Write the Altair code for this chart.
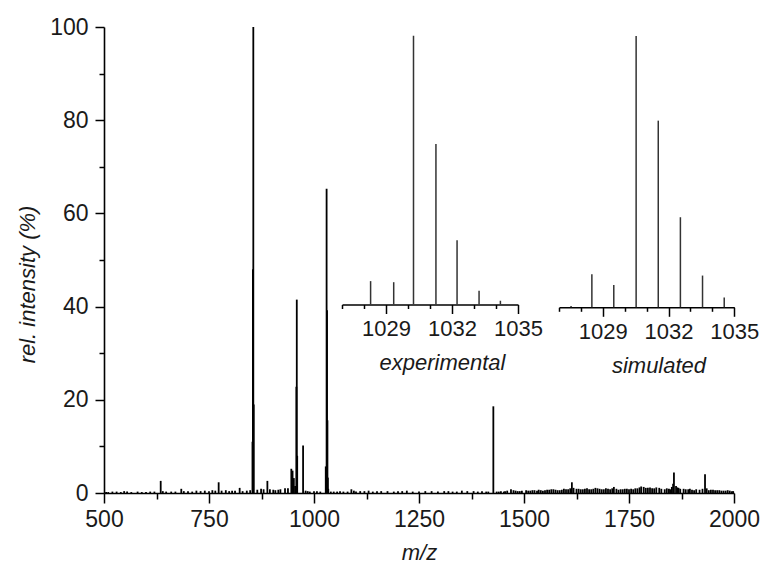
import altair as alt
import pandas as pd

# ---- main spectrum: major peaks (m/z, rel. intensity %) ----
major_mz = [853.5, 854.5, 855.5, 856.5, 946, 949, 952, 955, 958, 959, 960, 974,
            1028, 1029, 1030, 1031, 1032, 1033, 1034, 1427]
major_int = [11, 48, 100, 19, 5.2, 4.8, 3.2, 1.5, 22.8, 41.5, 8, 10.2,
             5.7, 5.5, 65.3, 39.2, 15.6, 3.3, 0.9, 18.6]

# ---- main spectrum: small peaks ----
small_mz = [505, 520, 548, 565, 580, 600, 620, 635, 648, 660, 684, 700, 720, 740, 758,
            773, 790, 805, 823, 840, 874, 889, 903, 915, 931, 990, 1007, 1040, 1055,
            1070, 1089, 1110, 1130, 1150, 1175, 1200, 1221, 1250, 1280, 1310, 1330,
            1352, 1380, 1400, 1415, 1440, 1455, 1469, 1480, 1490, 1510, 1520, 1531,
            1540, 1550, 1560, 1570, 1580, 1590, 1600, 1614, 1625, 1635, 1645, 1660,
            1675, 1690, 1700, 1714, 1730, 1745, 1760, 1770, 1779, 1790, 1800, 1810,
            1822, 1835, 1845, 1852, 1857, 1862, 1868, 1880, 1891, 1905, 1918, 1931,
            1945, 1960, 1975, 1990, 1998]
small_int = [0.2, 0.3, 0.4, 0.2, 0.3, 0.2, 0.3, 2.6, 0.3, 0.3, 0.9, 0.4, 0.5, 0.5, 0.6,
             2.3, 0.6, 0.5, 1.1, 0.5, 0.9, 2.6, 0.7, 0.7, 1.0, 0.3, 0.4, 0.3, 0.3,
             0.3, 0.8, 0.4, 0.5, 0.4, 0.4, 0.4, 0.5, 0.3, 0.4, 0.4, 0.3,
             0.5, 0.4, 0.4, 0.3, 0.3, 0.4, 0.8, 0.5, 0.4, 0.5, 0.6, 0.5,
             0.6, 0.6, 0.7, 0.8, 0.6, 0.7, 0.8, 2.3, 0.9, 0.8, 0.9, 0.8,
             1.0, 0.8, 0.9, 1.3, 0.8, 0.9, 0.8, 1.0, 1.4, 1.1, 1.2, 1.0,
             1.1, 0.8, 0.9, 1.3, 4.4, 1.5, 1.1, 0.9, 0.8, 0.6, 0.7, 4.0,
             0.7, 0.6, 0.5, 0.5, 0.4]

# ---- main spectrum: baseline noise ----
noise_mz = [510, 530, 540, 555, 590, 610, 640, 670, 690, 710, 730, 750, 765, 780, 798,
            812, 830, 848, 865, 880, 895, 908, 920, 938, 980, 985, 1000, 1015, 1047,
            1062, 1080, 1095, 1100, 1120, 1140, 1160, 1190, 1210, 1235, 1265, 1295,
            1320, 1340, 1365, 1390, 1410, 1435, 1445, 1452, 1460, 1475, 1485, 1495,
            1505, 1515, 1525, 1535, 1545, 1555, 1565, 1575, 1585, 1595, 1605, 1610,
            1618, 1630, 1640, 1650, 1655, 1665, 1670, 1680, 1685, 1695, 1705, 1710,
            1720, 1725, 1735, 1740, 1750, 1755, 1765, 1775, 1785, 1795, 1805, 1815,
            1827, 1840, 1848, 1855, 1865, 1872, 1885, 1895, 1900, 1910, 1925, 1935,
            1940, 1950, 1955, 1965, 1970, 1980, 1985, 1995]
noise_int = [0.2, 0.3, 0.2, 0.3, 0.2, 0.3, 0.4, 0.3, 0.4, 0.3, 0.4, 0.4, 0.5, 0.5, 0.4,
             0.5, 0.4, 0.6, 0.7, 0.8, 0.8, 0.6, 0.8, 1.0, 0.5, 0.4, 0.4, 0.3, 0.3,
             0.4, 0.3, 0.5, 0.3, 0.4, 0.3, 0.4, 0.3, 0.4, 0.3, 0.4, 0.3,
             0.4, 0.3, 0.4, 0.3, 0.3, 0.3, 0.4, 0.3, 0.5, 0.6, 0.4, 0.5,
             0.6, 0.5, 0.6, 0.7, 0.5, 0.7, 0.8, 0.7, 0.6, 0.9, 0.8, 1.0,
             1.1, 0.9, 0.8, 1.0, 0.8, 0.9, 1.1, 0.9, 0.8, 1.0, 0.8, 1.0,
             0.9, 0.7, 0.8, 0.9, 0.8, 0.9, 1.0, 1.2, 1.3, 1.1, 1.0, 1.2,
             0.9, 1.0, 0.8, 2.0, 1.2, 0.9, 0.8, 0.9, 0.7, 0.8, 0.9, 1.0,
             0.6, 0.7, 0.6, 0.6, 0.5, 0.5, 0.6, 0.4]

# ---- insets: isotope patterns ----
exp_mz = [1028.3, 1029.35, 1030.25, 1031.27, 1032.23, 1033.23, 1034.2]
exp_int = [8.7, 8.3, 100, 59.7, 23.9, 5.1, 1.4]
sim_mz = [1027.55, 1028.5, 1029.5, 1030.52, 1031.53, 1032.54, 1033.55, 1034.54]
sim_int = [0.5, 12.2, 8.2, 100, 68.8, 33.2, 11.7, 3.6]

# ---- axis ticks ----
x_major = [500, 750, 1000, 1250, 1500, 1750, 2000]
x_minor = [625, 875, 1125, 1375, 1625, 1875]
y_major = [0, 20, 40, 60, 80, 100]
y_minor = [10, 30, 50, 70, 90]
inset_major = [1029, 1032, 1035]
inset_minor = [1027, 1028, 1030, 1031, 1033, 1034]

FONT = "Liberation Sans"
W, H = 630, 466

peaks = pd.DataFrame({"mz": major_mz + small_mz + noise_mz,
                      "inten": major_int + small_int + noise_int})
exp_df = pd.DataFrame({"mz": exp_mz, "inten": exp_int})
sim_df = pd.DataFrame({"mz": sim_mz, "inten": sim_int})

xs = alt.Scale(domain=[500, 2000], nice=False, zero=False)
ys = alt.Scale(domain=[0, 100], nice=False)

axis_common = dict(domainColor="black", domainWidth=1.6, tickColor="black", tickWidth=1.5,
                   labelFont=FONT, labelColor="#1a1a1a", titleFont=FONT,
                   titleColor="#1a1a1a", grid=False, labelOverlap=False,
                   labelFlush=False, format="d")

main_sticks = alt.Chart(peaks).mark_rule(color="black", strokeWidth=1.8).encode(
    x=alt.X("mz:Q", scale=xs,
            axis=alt.Axis(values=x_major, tickSize=10, labelFontSize=23, labelPadding=5,
                          title="m/z", titleFontSize=22, titleFontStyle="italic",
                          titleFontWeight="normal", titleBaseline="middle",
                          titleY=59, orient="bottom", **axis_common)),
    y=alt.Y("inten:Q", scale=ys,
            axis=alt.Axis(values=y_major, tickSize=9, labelFontSize=23, labelPadding=7,
                          title="rel. intensity (%)", titleFontSize=22,
                          titleFontStyle="italic", titleFontWeight="normal",
                          titleAlign="center", titleBaseline="middle",
                          titleX=-77, titleY=257, orient="left", **axis_common)),
    y2=alt.datum(0),
)

minor_main = alt.Chart(peaks).mark_point(opacity=0).encode(
    x=alt.X("mz:Q", scale=xs,
            axis=alt.Axis(values=x_minor, tickSize=6, labels=False, domain=False,
                          title=None, orient="bottom", **axis_common)),
    y=alt.Y("inten:Q", scale=ys,
            axis=alt.Axis(values=y_minor, tickSize=5, labels=False, domain=False,
                          title=None, orient="left", **axis_common)),
)

main = alt.layer(main_sticks, minor_main).resolve_axis(x="independent", y="independent")


def inset(df, xrange, yrange, title, title_x, offset):
    xsc = alt.Scale(domain=[1027, 1035], range=xrange, nice=False, zero=False)
    ysc = alt.Scale(domain=[0, 100], range=yrange, nice=False)
    sticks = alt.Chart(df).mark_rule(color="#333333", strokeWidth=1.5).encode(
        x=alt.X("mz:Q", scale=xsc,
                axis=alt.Axis(values=inset_major, tickSize=9, labelFontSize=22,
                              labelPadding=5, title=title,
                              titleFontSize=22, titleFontStyle="italic",
                              titleFontWeight="normal", titleBaseline="middle",
                              titleX=title_x, titleY=58, offset=offset,
                              orient="bottom", **axis_common)),
        y=alt.Y("inten:Q", scale=ysc, axis=None),
        y2=alt.datum(0),
    )
    minor = alt.Chart(df).mark_point(opacity=0).encode(
        x=alt.X("mz:Q", scale=xsc,
                axis=alt.Axis(values=inset_minor, tickSize=4, labels=False, domain=False,
                              title=None, offset=offset, orient="bottom", **axis_common)),
        y=alt.Y("inten:Q", scale=ysc, axis=None),
    )
    return alt.layer(sticks, minor).resolve_axis(x="independent")


exp_chart = inset(exp_df, [238, 414], [277.5, 8.7], "experimental", 338, 277.5 - H)
sim_chart = inset(sim_df, [455, 630.3], [280.3, 9.0], "simulated", 554.5, 280.3 - H)

chart = alt.layer(main, exp_chart, sim_chart).resolve_scale(
    x="independent", y="independent"
).resolve_axis(x="independent", y="independent").properties(
    width=W, height=H,
    autosize=alt.AutoSizeParams(type="none"),
    padding={"left": 104, "top": 27, "right": 29, "bottom": 81},
    background="white",
).configure_view(stroke=None)

chart.save("out.html", embed_options={"renderer": "svg", "actions": False})
